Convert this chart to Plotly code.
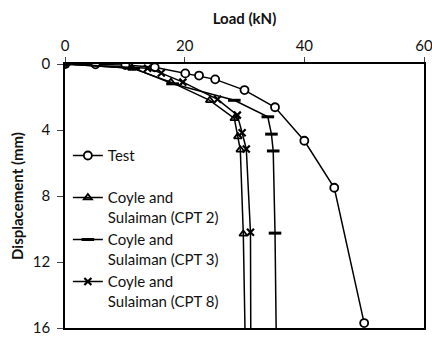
import plotly.graph_objects as go

# Data
test_load = [0, 5.1, 10.1, 15.0, 20.1, 22.4, 25.1, 30.0, 35.1, 40.0, 45.0, 50.0]
test_disp = [0, 0.02, 0.06, 0.2, 0.57, 0.7, 0.93, 1.58, 2.62, 4.65, 7.5, 15.7]

cpt2_load = [0, 11.2, 17.7, 24.2, 28.3, 28.9, 29.3, 29.8, 30.1]
cpt2_disp = [0, 0.25, 1.1, 2.2, 3.3, 4.4, 5.2, 10.3, 16.4]

cpt3_load = [0, 11.5, 18.0, 28.3, 33.9, 34.5, 34.8, 35.1, 35.3]
cpt3_disp = [0, 0.26, 1.2, 2.2, 3.2, 4.25, 5.27, 10.25, 16.4]

cpt8_load = [0, 13.8, 16.1, 19.7, 25.5, 28.8, 29.6, 30.3, 31.0, 31.05]
cpt8_disp = [0, 0.26, 0.55, 1.1, 2.14, 3.1, 4.17, 5.15, 10.2, 16.4]

names = ["Test<br> ", "Coyle and<br>Sulaiman (CPT 2)", "Coyle and<br>Sulaiman (CPT 3)",
         "Coyle and<br>Sulaiman (CPT 8)"]

x_ticks = [0, 20, 40, 60]
y_ticks = [0, 4, 8, 12, 16]

FONT = "Lato"
fig = go.Figure()
fig.add_trace(go.Scatter(x=test_load, y=test_disp, name=names[0], mode="lines+markers",
                         line=dict(color="black", width=1.5),
                         marker=dict(symbol="circle", size=8, color="white",
                                     line=dict(color="black", width=1.8))))
fig.add_trace(go.Scatter(x=cpt2_load, y=cpt2_disp, name=names[1], mode="lines+markers",
                         line=dict(color="black", width=1.5),
                         marker=dict(symbol="triangle-up-open", size=7, color="black",
                                     line=dict(color="black", width=1.8))))
fig.add_trace(go.Scatter(x=cpt3_load, y=cpt3_disp, name=names[2], mode="lines+markers",
                         line=dict(color="black", width=1.5),
                         marker=dict(symbol="line-ew", size=9, color="black",
                                     line=dict(color="black", width=3))))
fig.add_trace(go.Scatter(x=cpt8_load, y=cpt8_disp, name=names[3], mode="lines+markers",
                         line=dict(color="black", width=1.5),
                         marker=dict(symbol="x-thin", size=7, color="black",
                                     line=dict(color="black", width=2.2))))

fig.update_layout(
    width=432, height=339,
    margin=dict(l=65, r=8, t=64, b=11),
    paper_bgcolor="white", plot_bgcolor="white",
    font=dict(family=FONT, size=15, color="#111111"),
    showlegend=True,
    legend=dict(x=0.008, y=0.715, xanchor="left", yanchor="top",
                bgcolor="rgba(255,255,255,0)", borderwidth=0,
                font=dict(family=FONT, size=15, color="#111111"),
                valign="top", tracegroupgap=0),
    xaxis=dict(side="top", range=[0, 60], tickvals=x_ticks, showgrid=False, zeroline=False,
               showline=True, linecolor="black", linewidth=1.5, mirror=True,
               ticks="outside", ticklen=5, tickcolor="#444", tickwidth=1,
               automargin=False, ticklabeloverflow="allow",
               title=dict(text="<b>Load (kN)</b>", standoff=8, font=dict(size=15))),
    yaxis=dict(range=[16, 0], tickvals=y_ticks, showgrid=False, zeroline=False,
               showline=True, linecolor="black", linewidth=1.5, mirror=True,
               ticks="outside", ticklen=6, tickcolor="#444", tickwidth=1,
               ticklabelstandoff=4, automargin=False, ticklabeloverflow="allow",
               title=dict(text="<b>Displacement (mm)</b>", standoff=6, font=dict(size=15))),
)

fig.write_html("out.html")
